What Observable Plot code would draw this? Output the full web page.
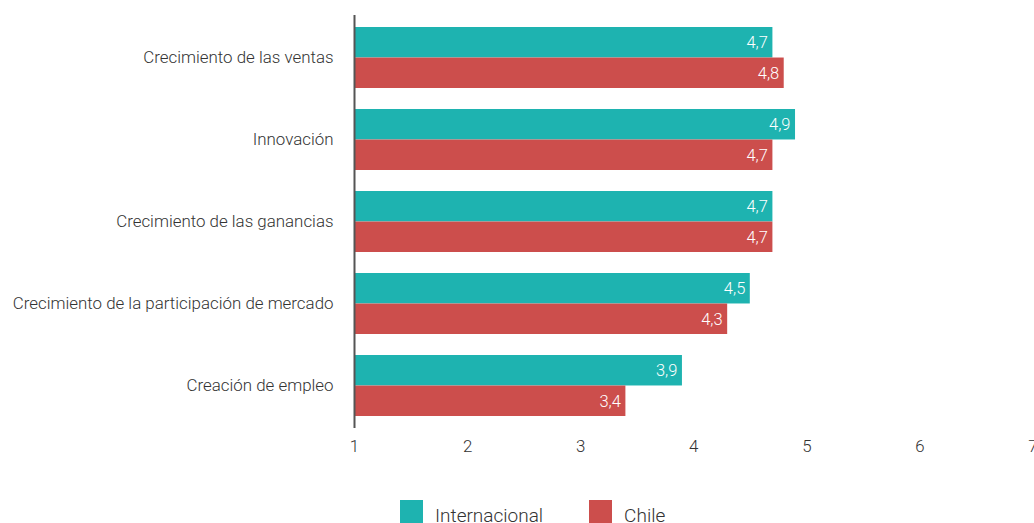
<!DOCTYPE html>
<html>
<head>
<meta charset="utf-8">
<script src="https://cdn.jsdelivr.net/npm/d3@7"></script>
<script src="https://cdn.jsdelivr.net/npm/@observablehq/plot@0.6"></script>
<style>
  html, body { margin: 0; padding: 0; background: #fff; }
  body { width: 1034px; height: 523px; overflow: hidden; font-family: Roboto, "Noto Sans", sans-serif; font-weight: 300; }
  #legend { display: flex; align-items: flex-end; margin-top: 29px; padding-left: 400px; height: 24px; }
  .item { display: flex; align-items: flex-end; margin-right: 46px; }
  .sw { width: 23px; height: 23px; }
  .lab { font-size: 19px; color: #333; margin-left: 12px; line-height: 19px; position: relative; top: 2px; }
</style>
</head>
<body>
<div id="chart"></div>
<div id="legend"></div>
<script>
const categories = [
  "Crecimiento de las ventas",
  "Innovación",
  "Crecimiento de las ganancias",
  "Crecimiento de la participación de mercado",
  "Creación de empleo"
];
const series = ["Internacional", "Chile"];
const internacional = [4.7, 4.9, 4.7, 4.5, 3.9];
const chile = [4.8, 4.7, 4.7, 4.3, 3.4];
const xTicks = [1, 2, 3, 4, 5, 6, 7];
const colors = ["#1eb3b0", "#cc4e4c"];

const W = 1034, H = 470, MT = 15, MB = 42;
const padIn = 0.26, padOut = 0.133;
const step = (H - MT - MB) / (categories.length - padIn + 2 * padOut);
const bw = step * (1 - padIn);

const dataI = categories.map((c, i) => ({category: c, value: internacional[i], series: series[0]}));
const dataC = categories.map((c, i) => ({category: c, value: chile[i], series: series[1]}));
const fmt = v => d3.format(".1f")(v).replace(".", ",");

const plot = Plot.plot({
  width: W,
  height: H,
  marginTop: MT,
  marginBottom: MB,
  marginLeft: 354,
  marginRight: 1.5,
  style: {fontFamily: "Roboto, 'Noto Sans', sans-serif", fontSize: "16.9px", fontWeight: 300, color: "#333", background: "#fff"},
  x: {domain: [1, 7], ticks: xTicks, tickSize: 0, tickPadding: 11, label: null, tickFormat: d => String(d)},
  y: {domain: categories, paddingInner: padIn, paddingOuter: padOut, tickSize: 0, tickPadding: 21, label: null},
  marks: [
    Plot.barX(dataI, {x1: 1, x2: "value", y: "category", fill: colors[0], insetBottom: bw / 2}),
    Plot.barX(dataC, {x1: 1, x2: "value", y: "category", fill: colors[1], insetTop: bw / 2}),
    Plot.text(dataI, {x: "value", y: "category", text: d => fmt(d.value), dy: -bw / 4, dx: -5, textAnchor: "end", fill: "white", fontSize: 16.5}),
    Plot.text(dataC, {x: "value", y: "category", text: d => fmt(d.value), dy: bw / 4, dx: -5, textAnchor: "end", fill: "white", fontSize: 16.5}),
    Plot.ruleX([1], {stroke: "#555", strokeWidth: 2})
  ]
});
document.getElementById("chart").appendChild(plot);

const legend = document.getElementById("legend");
series.forEach((s, i) => {
  const item = document.createElement("div");
  item.className = "item";
  const sw = document.createElement("div");
  sw.className = "sw";
  sw.style.background = colors[i];
  const lab = document.createElement("span");
  lab.className = "lab";
  lab.textContent = s;
  item.appendChild(sw);
  item.appendChild(lab);
  legend.appendChild(item);
});
</script>
</body>
</html>
